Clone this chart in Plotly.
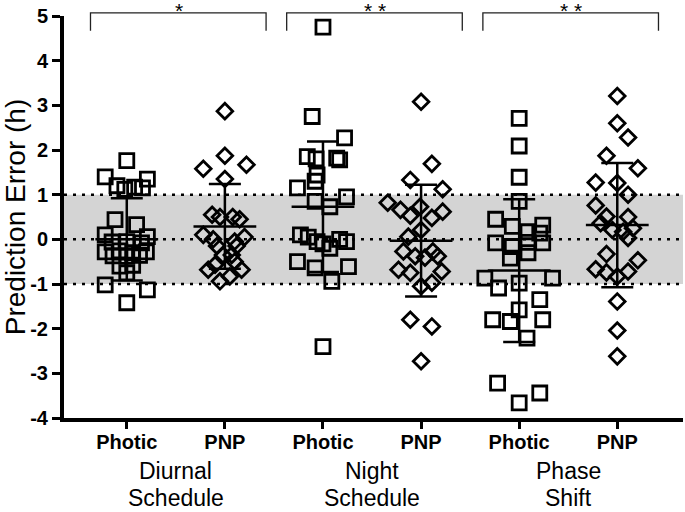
import plotly.graph_objects as go

# Category labels
groups = ["Photic", "PNP", "Photic", "PNP", "Photic", "PNP"]
conditions = ["Diurnal<br>Schedule", "Night<br>Schedule", "Phase<br>Shift"]
significance = ["*", "* *", "* *"]
y_ticks = [5, 4, 3, 2, 1, 0, -1, -2, -3, -4]

# Prediction errors (h), with horizontal scatter offsets
diurnal_photic = [1.76, 1.40, 1.35, 1.20, 1.17, 1.15, 1.12, 0.44, 0.33, 0.10, 0.06, -0.06, -0.05, -0.08,
                  -0.28, -0.26, -0.30, -0.28, -0.37, -0.38, -0.36, -0.60, -0.58, -0.75, -1.02, -1.13, -1.42]
diurnal_photic_dx = [0, -0.22, 0.21, -0.1, 0.08, 0.16, -0.02, -0.12, 0.1, -0.22, 0.21, -0.15, 0, 0.15,
                     -0.22, -0.07, 0.06, 0.2, -0.14, 0, 0.13, -0.07, 0.06, 0, -0.22, 0.21, 0]

diurnal_pnp = [2.87, 1.87, 1.67, 1.58, 1.35, 0.55, 0.50, 0.50, 0.45, 0.10, 0.00, -0.05, 0.05, -0.15,
               -0.15, -0.35, -0.35, -0.68, -0.57, -0.50, -0.68, -0.94, -0.83]
diurnal_pnp_dx = [0, 0, 0.22, -0.22, 0, -0.13, -0.05, 0.08, 0.15, -0.22, -0.12, 0.1, 0.2, -0.08,
                  0.12, -0.02, 0.07, -0.17, -0.1, 0.1, 0.17, -0.05, 0.05]

night_photic = [4.75, 2.75, 2.27, 1.85, 1.82, 1.80, 1.78, 1.44, 1.30, 1.15, 0.95, 0.85, 0.73, 0.10,
                0.05, -0.05, -0.10, -0.20, 0.00, -0.05, -0.50, -0.64, -0.61, -0.94, -2.40]
night_photic_dx = [0, -0.11, 0.22, -0.16, 0.14, -0.07, 0.17, -0.06, -0.08, -0.26, 0.24, -0.08, 0.07, -0.23,
                   -0.15, -0.06, 0, 0.07, 0.17, 0.24, -0.26, -0.08, 0.26, 0.09, 0]

night_pnp = [3.08, 1.69, 1.33, 1.12, 0.82, 0.66, 0.53, 0.73, 0.48, 0.62, 0.21, 0.06, -0.27, -0.38,
             -0.41, -0.27, -0.38, -0.68, -0.75, -0.72, -0.97, -1.05, -1.80, -1.95, -2.73]
night_pnp_dx = [0, 0.11, -0.11, 0.22, -0.34, -0.21, -0.11, -0.01, 0.11, 0.22, 0, -0.13, -0.18, -0.06,
                0.04, 0.12, 0.17, -0.23, -0.11, 0.21, 0.11, 0, -0.11, 0.11, 0]

phase_photic = [2.71, 2.09, 1.39, 0.85, 0.45, 0.29, 0.17, 0.32, 0.14, -0.08, -0.16, -0.07, -0.30, -0.08,
                -0.42, -0.87, -1.09, -0.98, -0.87, -1.35, -1.58, -1.80, -1.84, -1.80, -2.21, -3.22,
                -3.44, -3.66]
phase_photic_dx = [0, 0, 0, 0, -0.24, -0.07, 0.09, 0.24, 0.21, -0.24, -0.07, 0.09, 0.09, 0.24,
                   -0.09, -0.35, -0.21, 0, 0.34, 0.21, 0, -0.27, -0.09, 0.24, 0.08, -0.22, 0.21, 0]

phase_pnp = [3.21, 2.60, 2.28, 1.87, 1.59, 1.27, 1.26, 1.00, 0.76, 0.51, 0.50, 0.36, 0.21, 0.17,
             0.25, 0.03, -0.33, -0.47, -0.67, -0.74, -0.83, -0.72, -1.39, -2.04, -2.62]
phase_pnp_dx = [0, 0, 0.11, -0.11, 0.21, -0.22, 0, 0.11, -0.22, -0.11, 0.11, -0.17, -0.05, 0.06,
                0.16, 0.11, -0.11, 0.21, -0.22, -0.11, 0, 0.11, 0, 0, 0]

# Mean and SD per group
means = [0.0, 0.29, 0.73, -0.03, -0.70, 0.32]
sds = [0.92, 0.95, 1.46, 1.25, 1.60, 1.39]

values = [diurnal_photic, diurnal_pnp, night_photic, night_pnp, phase_photic, phase_pnp]
offsets = [diurnal_photic_dx, diurnal_pnp_dx, night_photic_dx, night_pnp_dx, phase_photic_dx, phase_pnp_dx]

FONT = "Liberation Sans, Arial, sans-serif"

fig = go.Figure()

for i, (vals, dx) in enumerate(zip(values, offsets)):
    is_photic = groups[i] == "Photic"
    fig.add_trace(go.Scatter(
        x=[i + d for d in dx],
        y=vals,
        mode="markers",
        marker=dict(
            symbol="square-open" if is_photic else "diamond-open",
            size=14 if is_photic else 12,
            color="black",
            line=dict(width=2.8, color="black"),
        ),
        showlegend=False,
    ))

# Mean line and SD whiskers
fig.add_trace(go.Scatter(
    x=list(range(len(groups))),
    y=means,
    mode="markers",
    marker=dict(size=1, color="rgba(0,0,0,0)"),
    error_y=dict(type="data", array=sds, width=16, thickness=2.5, color="black"),
    error_x=dict(type="data", array=[0.32] * len(groups), width=0, thickness=2.5, color="black"),
    showlegend=False,
))

# Shaded +/-1 h band and dotted reference lines
fig.add_shape(type="rect", xref="paper", x0=0, x1=1, yref="y", y0=-1, y1=1,
              fillcolor="#d4d4d4", line=dict(width=0), layer="below")
for yv in [-1, 0, 1]:
    fig.add_shape(type="line", xref="paper", x0=0, x1=1, yref="y", y0=yv, y1=yv,
                  line=dict(color="black", width=2.5, dash="3px,6px"), layer="below")

# Significance brackets
for k, star in enumerate(significance):
    x0, x1 = 2 * k - 0.37, 2 * k + 1.42
    fig.add_shape(type="path", xref="x", yref="paper",
                  path=f"M {x0},0.963 L {x0},1.008 L {x1},1.008 L {x1},0.963",
                  line=dict(color="#222222", width=1.3))
    fig.add_annotation(x=2 * k + 0.53, y=1.044, xref="x", yref="paper", text=star,
                       showarrow=False, yanchor="top", borderpad=0,
                       font=dict(size=21, color="black", family=FONT))

# Condition labels below the tick labels (two lines each)
for k, cond in enumerate(conditions):
    for j, line in enumerate(cond.split("<br>")):
        fig.add_annotation(x=2 * k + 0.5, y=-0.132 - 0.067 * j, xref="x", yref="paper", text=line,
                           showarrow=False, yanchor="middle",
                           font=dict(size=23, color="black", family=FONT))

fig.update_layout(
    width=685, height=512,
    margin=dict(l=64, r=2, t=16, b=94),
    plot_bgcolor="white", paper_bgcolor="white",
    font=dict(family=FONT, color="black"),
    xaxis=dict(
        range=[-0.64, 5.67],
        tickvals=list(range(len(groups))), ticktext=groups,
        tickfont=dict(size=20, weight="bold"),
        ticks="outside", ticklen=7, tickwidth=3, tickcolor="black",
        ticklabelstandoff=-4,
        showline=True, linewidth=4, linecolor="black",
        showgrid=False, zeroline=False,
    ),
    yaxis=dict(
        range=[-4, 5],
        tickvals=y_ticks, ticktext=[str(v) for v in y_ticks],
        tickfont=dict(size=20, weight="bold"),
        ticks="outside", ticklen=8, tickwidth=3, tickcolor="black",
        showline=True, linewidth=4, linecolor="black",
        showgrid=False, zeroline=False,
        title=dict(text="Prediction Error (h)", font=dict(size=28), standoff=6),
    ),
)

# page has a default body margin; drop it so the figure sits at the window origin
fig.write_html("out.html", config={"displayModeBar": False},
               post_script="document.body.style.margin = '0px';")
